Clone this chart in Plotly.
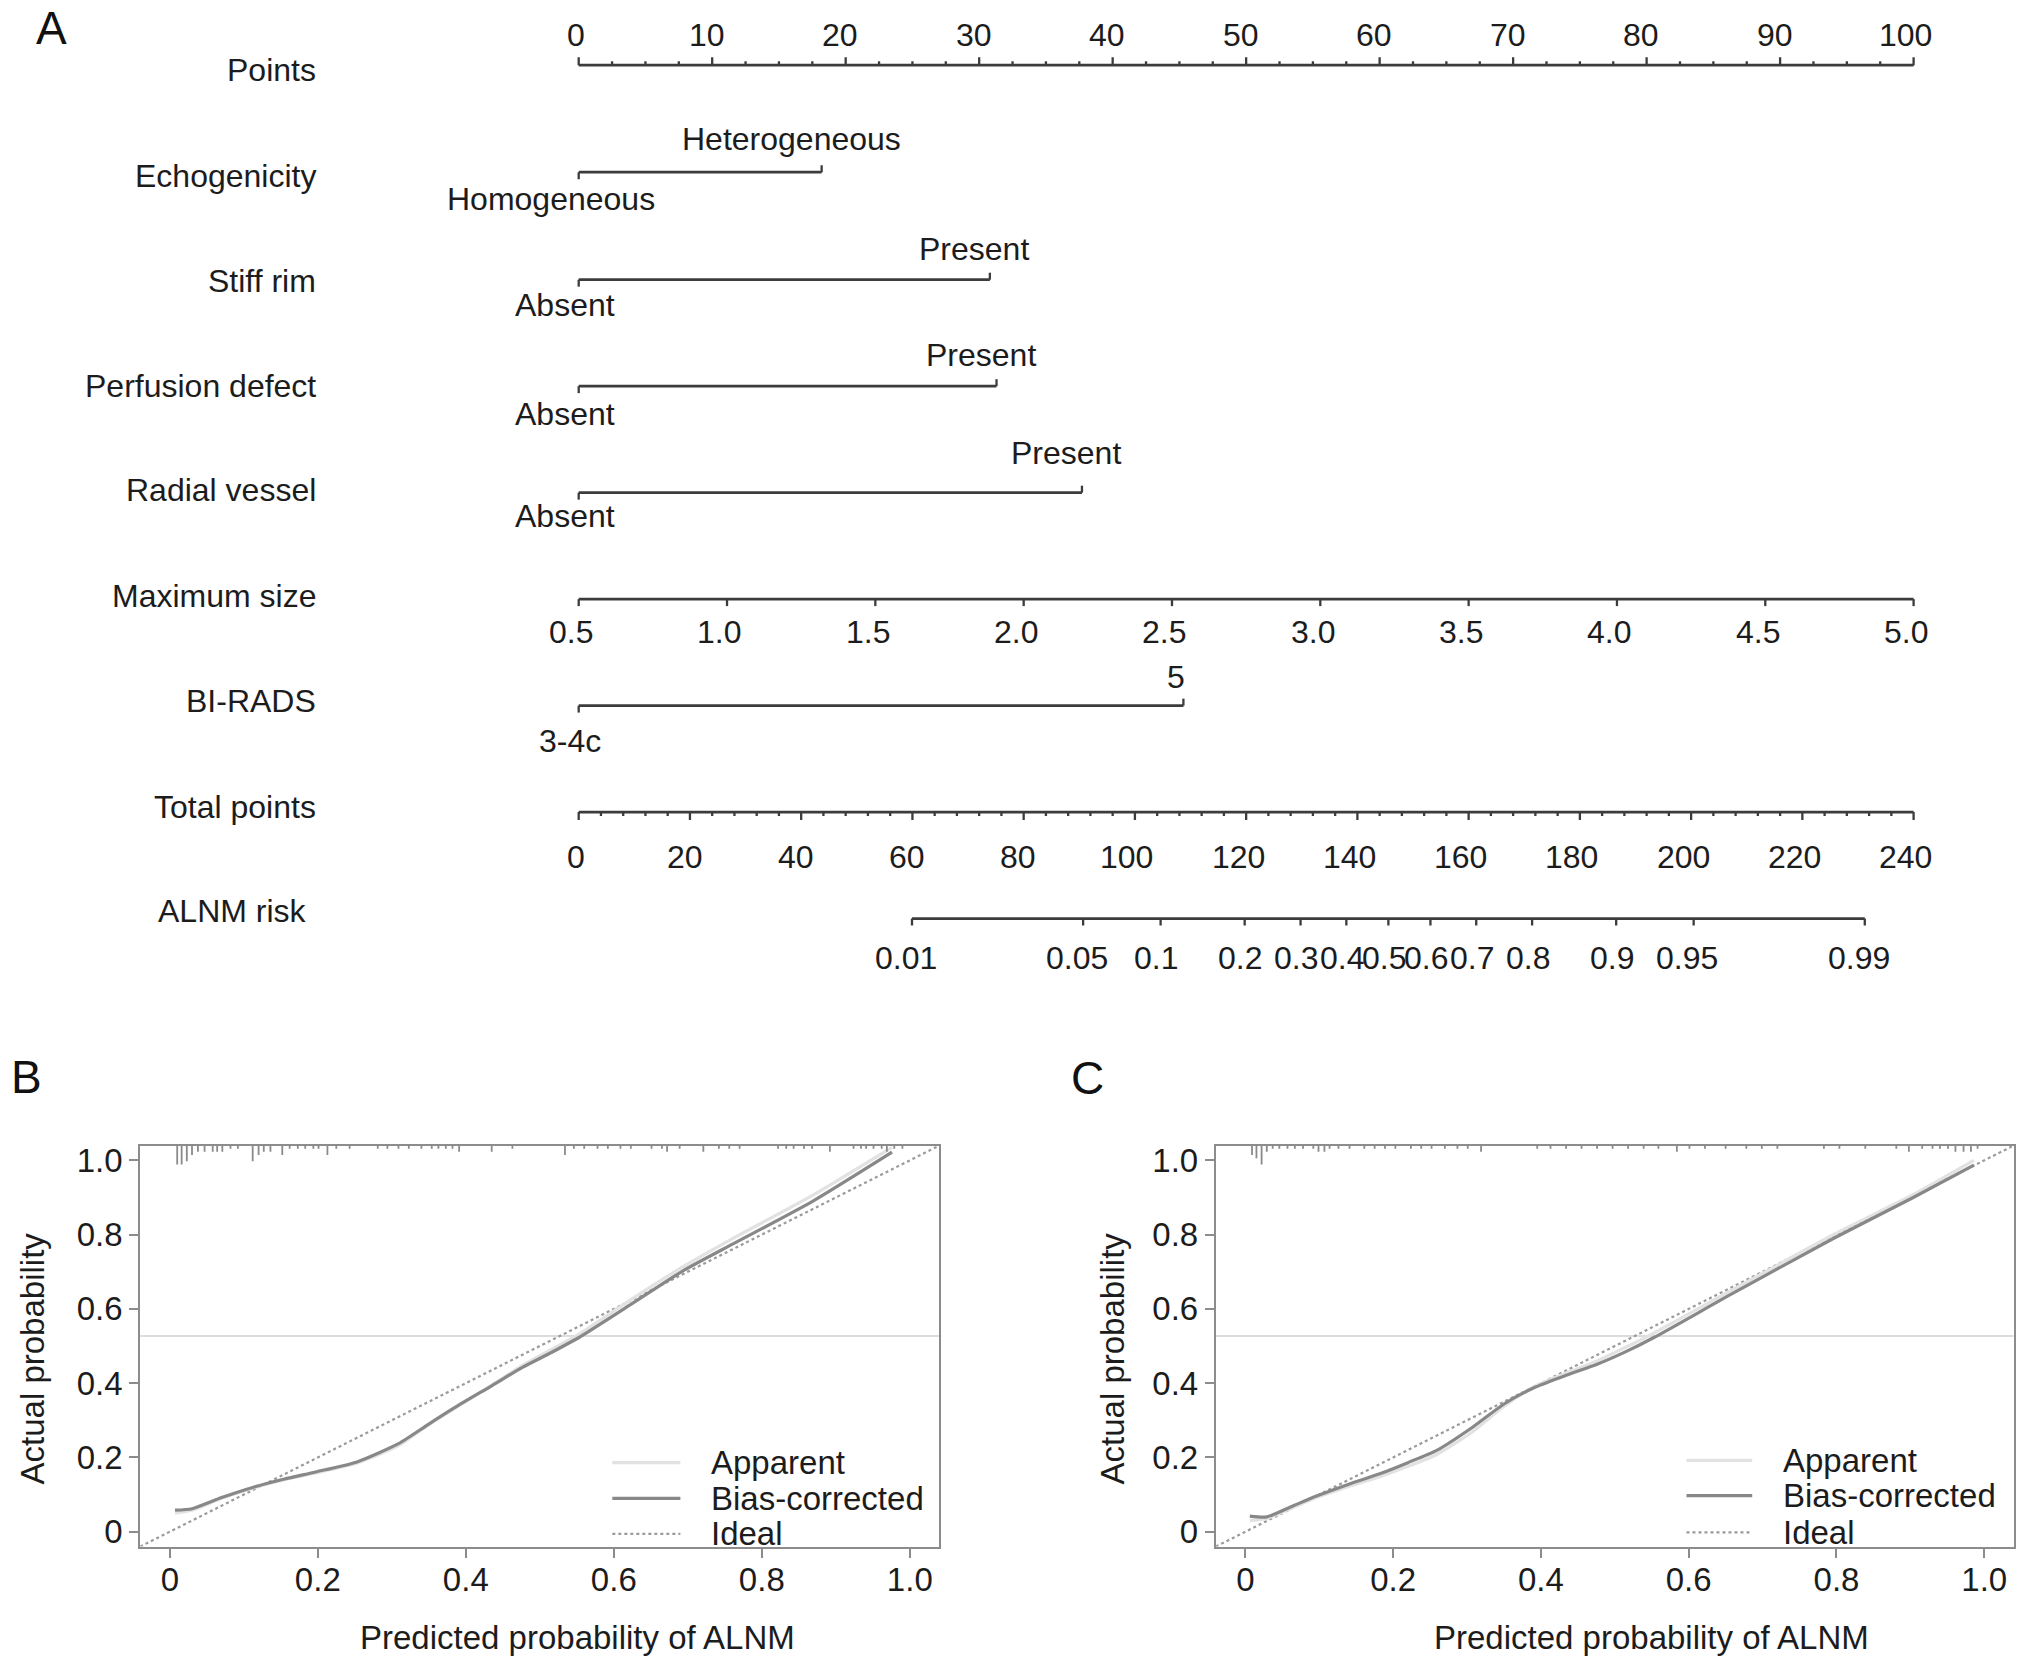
import math
import plotly.graph_objects as go

# =========================== DATA ===========================
# --- Nomogram (panel A) ---
points_major = [0, 10, 20, 30, 40, 50, 60, 70, 80, 90, 100]
points_minor_step = 2.5

binary_vars = ["Echogenicity", "Stiff rim", "Perfusion defect", "Radial vessel"]
binary_levels = [["Homogeneous", "Heterogeneous"], ["Absent", "Present"],
                 ["Absent", "Present"], ["Absent", "Present"]]
binary_points = [[0, 18.2], [0, 30.8], [0, 31.3], [0, 37.7]]

size_ticks = [0.5, 1.0, 1.5, 2.0, 2.5, 3.0, 3.5, 4.0, 4.5, 5.0]
size_tick_labels = ["0.5", "1.0", "1.5", "2.0", "2.5", "3.0", "3.5", "4.0", "4.5", "5.0"]
size_points_span = [0, 100]          # points at smallest / largest size

birads_levels = ["3-4c", "5"]
birads_points = [0, 45.3]

total_ticks = [0, 20, 40, 60, 80, 100, 120, 140, 160, 180, 200, 220, 240]
total_minor_step = 4
total_points_max = 240

risk_ticks = [0.01, 0.05, 0.1, 0.2, 0.3, 0.4, 0.5, 0.6, 0.7, 0.8, 0.9, 0.95, 0.99]
risk_labels = ["0.01", "0.05", "0.1", "0.2", "0.3", "0.4", "0.5", "0.6", "0.7",
               "0.8", "0.9", "0.95", "0.99"]
lp_intercept = -7.81     # linear predictor = intercept + slope * total points
lp_slope = 0.05365

# --- Calibration curves (panels B and C) ---
B_pred = [0.007, 0.03, 0.07, 0.113, 0.155, 0.197, 0.253, 0.309, 0.35, 0.393, 0.435,
          0.476, 0.515, 0.553, 0.623, 0.693, 0.763, 0.868, 0.976]
B_bias = [0.058, 0.062, 0.092, 0.12, 0.142, 0.161, 0.188, 0.237, 0.29, 0.344, 0.393,
          0.442, 0.482, 0.523, 0.612, 0.702, 0.777, 0.889, 1.022]
B_apparent = [0.050, 0.058, 0.09, 0.118, 0.14, 0.158, 0.185, 0.232, 0.288, 0.342, 0.395,
              0.447, 0.49, 0.532, 0.625, 0.713, 0.792, 0.905, 1.035]

C_pred = [0.006, 0.029, 0.065, 0.099, 0.14, 0.182, 0.22, 0.259, 0.308, 0.350, 0.392,
          0.435, 0.476, 0.515, 0.553, 0.657, 0.797, 0.902, 0.986]
C_bias = [0.042, 0.040, 0.07, 0.098, 0.128, 0.156, 0.186, 0.219, 0.282, 0.344, 0.389,
          0.422, 0.451, 0.485, 0.523, 0.639, 0.791, 0.898, 0.987]
C_apparent = [0.030, 0.036, 0.066, 0.094, 0.122, 0.148, 0.176, 0.208, 0.27, 0.338, 0.392,
              0.428, 0.46, 0.497, 0.535, 0.649, 0.801, 0.906, 1.0]

B_hline = 0.527
C_hline = 0.527

# rug (distribution of predictions) : position and relative height
B_rug_x = [0.010, 0.016, 0.023, 0.030, 0.038, 0.047, 0.058, 0.064, 0.071, 0.082, 0.092,
           0.112, 0.120, 0.127, 0.136, 0.152, 0.162, 0.173, 0.183, 0.194, 0.201, 0.213,
           0.225, 0.243, 0.281, 0.294, 0.309, 0.323, 0.340, 0.354, 0.363, 0.373, 0.382,
           0.391, 0.435, 0.463, 0.534, 0.546, 0.560, 0.578, 0.592, 0.609, 0.623, 0.651,
           0.665, 0.672, 0.689, 0.721, 0.742, 0.756, 0.770, 0.822, 0.833, 0.843, 0.857,
           0.868, 0.892, 0.924, 0.934, 0.941, 0.951, 0.962, 0.969, 0.979, 0.990]
B_rug_h = [6, 6, 5, 3, 2, 2, 2, 2, 2, 1, 1,
           5, 3, 2, 2, 3, 1, 1, 1, 1, 1, 3,
           1, 1, 1, 1, 1, 1, 1, 1, 1, 1, 1,
           2, 2, 1, 3, 1, 1, 1, 1, 1, 1, 1,
           1, 2, 1, 2, 1, 1, 1, 1, 1, 1, 1,
           1, 2, 1, 1, 1, 1, 1, 2, 1, 1]

C_rug_x = [0.009, 0.015, 0.022, 0.029, 0.037, 0.046, 0.057, 0.067, 0.078, 0.092, 0.099,
           0.107, 0.114, 0.126, 0.141, 0.161, 0.175, 0.189, 0.203, 0.224, 0.238, 0.252,
           0.270, 0.287, 0.301, 0.319, 0.395, 0.413, 0.434, 0.455, 0.476, 0.497, 0.518,
           0.539, 0.559, 0.584, 0.601, 0.622, 0.650, 0.678, 0.699, 0.720, 0.783, 0.804,
           0.839, 0.881, 0.898, 0.916, 0.930, 0.940, 0.951, 0.961, 0.972, 0.982, 0.991]
C_rug_h = [3, 4, 6, 2, 1, 1, 1, 1, 1, 1, 2,
           2, 1, 1, 1, 1, 1, 1, 1, 1, 1, 1,
           1, 1, 1, 2, 1, 1, 1, 1, 1, 1, 1,
           1, 1, 2, 1, 1, 1, 1, 1, 1, 1, 1,
           1, 1, 2, 1, 1, 1, 1, 2, 2, 2, 1]

# =========================== STYLE / LAYOUT ===========================
W, H = 2032, 1672
FONT = "Liberation Sans, Arial, Helvetica, sans-serif"
TXT = "#1c1c1c"
LINE = "#3c3c3c"
FS_NOMO = 32
FS_CAL = 33
TEXT_LIFT = 4          # px: visual centring correction for nomogram text

# nomogram pixel geometry
PX0, PX100 = 578.7, 1913.6          # pixel x of 0 and 100 points
PPP = (PX100 - PX0) / 100.0
NOMO_H = 1000                       # y axis of the nomogram is in pixels from top
row_names = ["Points", "Echogenicity", "Stiff rim", "Perfusion defect", "Radial vessel",
             "Maximum size", "BI-RADS", "Total points", "ALNM risk"]
row_label_y = [70, 177, 282, 387.5, 492.5, 598.5, 704, 810.5, 915]
row_label_dx = [0, 0, 0, 0, 0, 0, 0, 0, -9]
row_line_y = [61.5, 169, 277, 384, 491, 598, 705, 812, 919]
binary_up = [-29, -27, -27, -36]
binary_dn = [31, 29.5, 32, 27]
LABEL_RIGHT_PX = 317.5


def size_to_pts(s):
    return (s - size_ticks[0]) / (size_ticks[-1] - size_ticks[0]) * \
        (size_points_span[1] - size_points_span[0]) + size_points_span[0]


def total_to_pts(t):
    return t * 100.0 / total_points_max


def risk_to_total(p):
    return (math.log(p / (1 - p)) - lp_intercept) / lp_slope


_w = {".": .278, "-": .333, " ": .278, "i": .222, "l": .222, "t": .278, "f": .278,
      "r": .333, "s": .5, "c": .5, "y": .5}


def est_width(s, fs):
    tot = 0
    for ch in s:
        if ch in _w:
            tot += _w[ch]
        elif ch.isupper():
            tot += .68
        else:
            tot += .556
    return tot * fs


fig = go.Figure()
annotations = []

# ---------------- nomogram geometry ----------------
lx, ly, tx, ty = [], [], [], []


def seg(xs, ys, x0, x1, y0, y1):
    xs += [x0, x1, None]
    ys += [y0, y1, None]


def text(x, y, s, fs=FS_NOMO, shift=0.15, lift=TEXT_LIFT):
    annotations.append(dict(x=x, y=y, xref="x3", yref="y3", text=s, showarrow=False,
                            xanchor="center", yanchor="middle",
                            xshift=-shift * est_width(s, fs), yshift=lift,
                            font=dict(family=FONT, size=fs, color=TXT)))


# Points
y = row_line_y[0]
seg(lx, ly, points_major[0], points_major[-1], y, y)
n_minor = int(round((points_major[-1] - points_major[0]) / points_minor_step))
for k in range(n_minor + 1):
    v = points_major[0] + k * points_minor_step
    major = any(abs(v - m) < 1e-9 for m in points_major)
    seg(tx, ty, v, v, y, y - (8 if major else 4))
for m in points_major:
    text(m, 35.5, str(m))

# binary variables
for i, name in enumerate(binary_vars):
    y = row_line_y[1 + i]
    p0, p1 = binary_points[i]
    seg(lx, ly, p0, p1, y, y)
    seg(tx, ty, p0, p0, y, y + 7)
    seg(tx, ty, p1, p1, y, y - 7)
    text(p0, y + binary_dn[i], binary_levels[i][0], shift=0.14)
    text(p1, y + binary_up[i], binary_levels[i][1], shift=0.14)

# Maximum size
y = row_line_y[5]
seg(lx, ly, size_to_pts(size_ticks[0]), size_to_pts(size_ticks[-1]), y, y)
for s, lab in zip(size_ticks, size_tick_labels):
    seg(tx, ty, size_to_pts(s), size_to_pts(s), y, y + 7)
    text(size_to_pts(s), 635, lab, shift=0.17)

# BI-RADS
y = row_line_y[6]
seg(lx, ly, birads_points[0], birads_points[1], y, y)
seg(tx, ty, birads_points[0], birads_points[0], y, y + 7)
seg(tx, ty, birads_points[1], birads_points[1], y, y - 7)
text(birads_points[0], y + 40, birads_levels[0], shift=0.14)
text(birads_points[1], y - 25, birads_levels[1], shift=0.4)

# Total points
y = row_line_y[7]
seg(lx, ly, total_to_pts(total_ticks[0]), total_to_pts(total_ticks[-1]), y, y)
n_minor = int(round((total_ticks[-1] - total_ticks[0]) / total_minor_step))
for k in range(n_minor + 1):
    v = total_ticks[0] + k * total_minor_step
    major = v in total_ticks
    seg(tx, ty, total_to_pts(v), total_to_pts(v), y, y + (8 if major else 4))
for t in total_ticks:
    text(total_to_pts(t), 859, str(t), shift=0.15, lift=2)

# ALNM risk
y = row_line_y[8]
rx = [total_to_pts(risk_to_total(p)) for p in risk_ticks]
seg(lx, ly, rx[0], rx[-1], y, y)
for x, lab in zip(rx, risk_labels):
    seg(tx, ty, x, x, y, y + 7)
    text(x, 959, lab, shift=0.1, lift=0)

fig.add_trace(go.Scatter(x=lx, y=ly, mode="lines", xaxis="x3", yaxis="y3",
                         line=dict(color=LINE, width=2.8), hoverinfo="skip", showlegend=False))
fig.add_trace(go.Scatter(x=tx, y=ty, mode="lines", xaxis="x3", yaxis="y3",
                         line=dict(color=LINE, width=2.3), hoverinfo="skip", showlegend=False))

# row labels
for name, yy, dx in zip(row_names, row_label_y, row_label_dx):
    annotations.append(dict(x=LABEL_RIGHT_PX / W, y=yy, xref="paper", yref="y3", text=name,
                            showarrow=False, xanchor="right", yanchor="middle",
                            xshift=dx, yshift=TEXT_LIFT,
                            font=dict(family=FONT, size=FS_NOMO, color=TXT)))

# ---------------- calibration panels ----------------
RUG_UNIT = 0.0085
AX_LO, AX_HI = -0.04, 1.04
panels = [
    ("x", "y", B_pred, B_apparent, B_bias, B_hline, B_rug_x, B_rug_h,
     dict(line=(0.598, 0.690), text=0.728, ys=(0.186, 0.090, -0.006))),
    ("x2", "y2", C_pred, C_apparent, C_bias, C_hline, C_rug_x, C_rug_h,
     dict(line=(0.597, 0.686), text=0.725, ys=(0.192, 0.097, -0.002))),
]
for xa, ya, pred, app, bias, hline, rugx, rugh, leg in panels:
    # horizontal reference line
    fig.add_trace(go.Scatter(x=[AX_LO, AX_HI], y=[hline, hline], mode="lines", xaxis=xa, yaxis=ya,
                             line=dict(color="#dcdcdc", width=2.2), hoverinfo="skip", showlegend=False))
    # ideal
    fig.add_trace(go.Scatter(x=[AX_LO, AX_HI], y=[AX_LO, AX_HI], mode="lines", xaxis=xa, yaxis=ya,
                             line=dict(color="#9a9a9a", width=2.2, dash="dot"),
                             hoverinfo="skip", showlegend=False))
    # apparent
    fig.add_trace(go.Scatter(x=pred, y=app, mode="lines", xaxis=xa, yaxis=ya,
                             line=dict(color="#e2e2e2", width=3.2, shape="spline", smoothing=0.6),
                             hoverinfo="skip", showlegend=False))
    # bias-corrected
    fig.add_trace(go.Scatter(x=pred, y=bias, mode="lines", xaxis=xa, yaxis=ya,
                             line=dict(color="#888888", width=3.2, shape="spline", smoothing=0.6),
                             hoverinfo="skip", showlegend=False))
    # rug
    rx_, ry_ = [], []
    for xv, hv in zip(rugx, rugh):
        rx_ += [xv, xv, None]
        ry_ += [AX_HI, AX_HI - hv * RUG_UNIT, None]
    fig.add_trace(go.Scatter(x=rx_, y=ry_, mode="lines", xaxis=xa, yaxis=ya,
                             line=dict(color="#8a8a8a", width=1.8), hoverinfo="skip", showlegend=False))
    # legend
    x0, x1 = leg["line"]
    styles = [dict(color="#e2e2e2", width=3.2), dict(color="#888888", width=3.2),
              dict(color="#9a9a9a", width=2.2, dash="dot")]
    for name, yy, st in zip(["Apparent", "Bias-corrected", "Ideal"], leg["ys"], styles):
        fig.add_trace(go.Scatter(x=[x0, x1], y=[yy, yy], mode="lines", xaxis=xa, yaxis=ya,
                                 line=st, hoverinfo="skip", showlegend=False))
        annotations.append(dict(x=leg["text"], y=yy, xref=xa, yref=ya, text=name, showarrow=False,
                                xanchor="left", yanchor="middle",
                                font=dict(family=FONT, size=FS_CAL, color=TXT)))

cal_ticks = [0, 0.2, 0.4, 0.6, 0.8, 1.0]
cal_tick_text = ["0", "0.2", "0.4", "0.6", "0.8", "1.0"]
Y_DOM = [1 - 1550 / H, 1 - 1147 / H]
axis_common = dict(range=[AX_LO, AX_HI], tickvals=cal_ticks, ticktext=cal_tick_text,
                   showgrid=False, zeroline=False, showline=True, mirror=True,
                   linecolor="#8c8c8c", linewidth=2, ticks="outside", ticklen=9,
                   tickwidth=2, tickcolor="#8c8c8c",
                   tickfont=dict(family=FONT, size=FS_CAL, color=TXT))

fig.update_layout(
    width=W, height=H, margin=dict(l=0, r=0, t=0, b=0),
    paper_bgcolor="white", plot_bgcolor="white", showlegend=False,
    xaxis=dict(domain=[140.2 / W, 939.4 / W], anchor="y", ticklabelstandoff=-6, **axis_common),
    yaxis=dict(domain=Y_DOM, anchor="x", **axis_common),
    xaxis2=dict(domain=[1215.8 / W, 2013.8 / W], anchor="y2", ticklabelstandoff=-6, **axis_common),
    yaxis2=dict(domain=Y_DOM, anchor="x2", **axis_common),
    xaxis3=dict(domain=[0, 1], anchor="y3", range=[-PX0 / PPP, (W - PX0) / PPP], visible=False),
    yaxis3=dict(domain=[1 - NOMO_H / H, 1], anchor="x3", range=[NOMO_H, 0], visible=False),
)

# axis titles and panel letters
for cx, ax_x in [(577 / W, 32 / W), (1651.7 / W, 1112 / W)]:
    annotations.append(dict(x=cx, y=1 - 1641 / H, xref="paper", yref="paper",
                            text="Predicted probability of ALNM", showarrow=False,
                            xanchor="center", yanchor="middle",
                            font=dict(family=FONT, size=FS_CAL, color=TXT)))
    annotations.append(dict(x=ax_x, y=1 - 1361 / H, xref="paper", yref="paper",
                            text="Actual probability", showarrow=False, textangle=-90,
                            xanchor="center", yanchor="middle",
                            font=dict(family=FONT, size=FS_CAL, color=TXT)))
for letter, px, py in [("A", 51.5, 24), ("B", 26, 1078), ("C", 1087, 1079)]:
    annotations.append(dict(x=px / W, y=1 - py / H, xref="paper", yref="paper", text=letter,
                            showarrow=False, xanchor="center", yanchor="middle",
                            font=dict(family=FONT, size=46, color="#111111")))

fig.update_layout(annotations=annotations)

fig.write_html("out.html", config={"displayModeBar": False},
               post_script="document.body.style.margin='0px';document.body.style.overflow='hidden';")
